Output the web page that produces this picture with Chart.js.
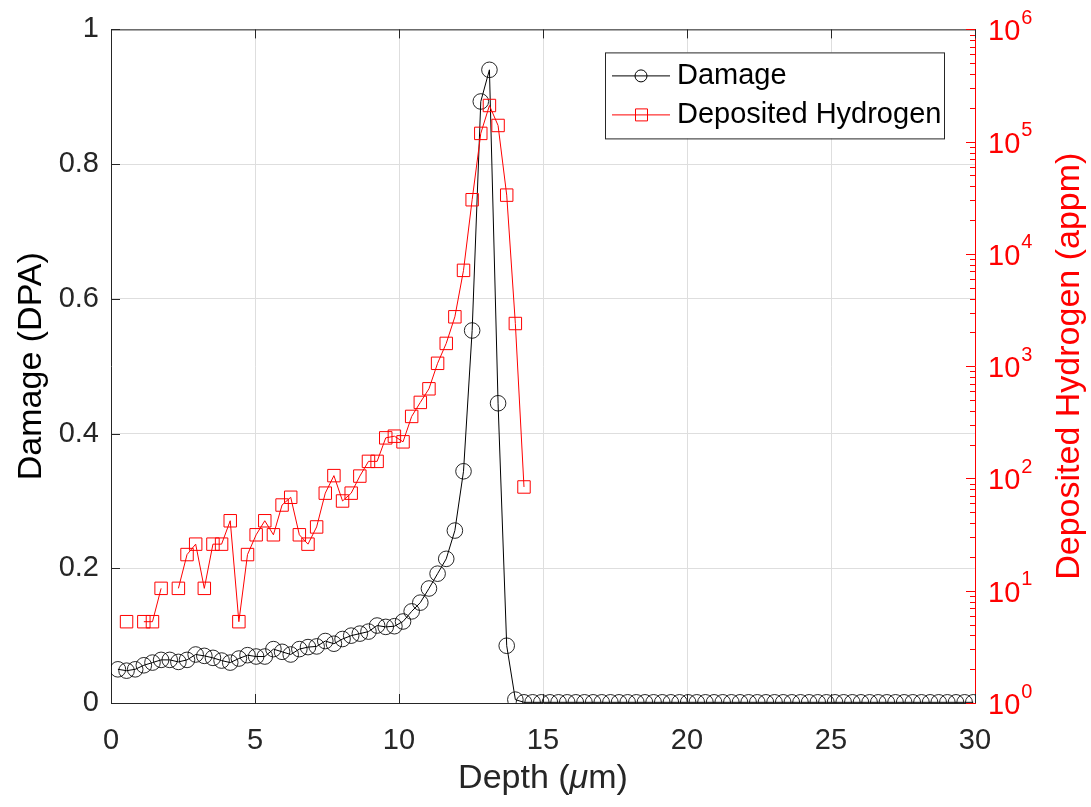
<!DOCTYPE html>
<html>
<head>
<meta charset="utf-8">
<title>Damage and deposited hydrogen vs depth</title>
<script src="https://cdn.jsdelivr.net/npm/chart.js@4.4.1/dist/chart.umd.min.js"></script>
<style>
  html, body { margin: 0; padding: 0; background: #ffffff; }
  #wrap { width: 1091px; height: 807px; }
</style>
</head>
<body>
<div id="wrap"><canvas id="c" width="1091" height="807"></canvas></div>
<script>
// Depth bins (um)
const depth = [
  0.24, 0.54, 0.84, 1.14, 1.44, 1.74, 2.04, 2.34, 2.64, 2.94,
  3.24, 3.54, 3.84, 4.14, 4.44, 4.74, 5.04, 5.34, 5.64, 5.94,
  6.24, 6.54, 6.84, 7.14, 7.44, 7.74, 8.04, 8.34, 8.64, 8.94,
  9.24, 9.54, 9.84, 10.14, 10.44, 10.74, 11.04, 11.34, 11.64, 11.94,
  12.24, 12.54, 12.84, 13.14, 13.44, 13.74, 14.04, 14.34, 14.64, 14.94,
  15.24, 15.54, 15.84, 16.14, 16.44, 16.74, 17.04, 17.34, 17.64, 17.94,
  18.24, 18.54, 18.84, 19.14, 19.44, 19.74, 20.04, 20.34, 20.64, 20.94,
  21.24, 21.54, 21.84, 22.14, 22.44, 22.74, 23.04, 23.34, 23.64, 23.94,
  24.24, 24.54, 24.84, 25.14, 25.44, 25.74, 26.04, 26.34, 26.64, 26.94,
  27.24, 27.54, 27.84, 28.14, 28.44, 28.74, 29.04, 29.34, 29.64, 29.94
];

// Displacement damage (DPA), one value per depth bin
const damage = [
  0.050, 0.048, 0.050, 0.056, 0.060, 0.064, 0.064, 0.061, 0.064, 0.072,
  0.070, 0.067, 0.063, 0.060, 0.066, 0.071, 0.069, 0.069, 0.080, 0.076,
  0.072, 0.080, 0.083, 0.084, 0.092, 0.088, 0.095, 0.100, 0.103, 0.106,
  0.115, 0.113, 0.114, 0.121, 0.136, 0.149, 0.170, 0.192, 0.214, 0.256,
  0.344, 0.553, 0.893, 0.940, 0.445, 0.085, 0.005, 0.001, 0.001, 0.001,
  0.001, 0.001, 0.001, 0.001, 0.001, 0.001, 0.001, 0.001, 0.001, 0.001,
  0.001, 0.001, 0.001, 0.001, 0.001, 0.001, 0.001, 0.001, 0.001, 0.001,
  0.001, 0.001, 0.001, 0.001, 0.001, 0.001, 0.001, 0.001, 0.001, 0.001,
  0.001, 0.001, 0.001, 0.001, 0.001, 0.001, 0.001, 0.001, 0.001, 0.001,
  0.001, 0.001, 0.001, 0.001, 0.001, 0.001, 0.001, 0.001, 0.001, 0.001
];

// Deposited hydrogen (appm) for the first bins; null = no hydrogen in that bin
const hydrogen = [
  null, 5.3, null, 5.3, 5.3, 10.5, null, 10.5, 21, 26,
  10.5, 26, 26, 42, 5.3, 21, 31.5, 42, 31.5, 58,
  68, 31.5, 26, 37, 74, 106, 63, 74, 105, 142,
  142, 230, 238, 212, 357, 476, 629, 1061, 1596, 2754,
  7140, 30400, 118500, 210000, 139400, 33400, 2400, 84
];

const xTicks = [0, 5, 10, 15, 20, 25, 30];
const damageTicks = [0, 0.2, 0.4, 0.6, 0.8, 1];
const hydrogenDecades = [0, 1, 2, 3, 4, 5, 6];

const FONT = "'Liberation Sans', Arial, Helvetica, sans-serif";
const AXIS_GREY = '#262626';
const RED = '#ff0000';
const TICK_SIZE = 29;
const TITLE_SIZE = 34;
const LEGEND_SIZE = 29;

const damagePoints = depth.map((d, i) => ({ x: d, y: damage[i] }));
const hydrogenPoints = hydrogen.map((h, i) => ({ x: depth[i], y: h }));

// Frame, inward tick marks, superscript log labels, rotated titles and legend
const decorations = {
  id: 'decorations',
  afterDraw(chart) {
    const { ctx, chartArea: a, scales } = chart;
    const xs = scales.x, ys = scales.y, hs = scales.y2;
    ctx.save();

    // top edge of the box
    ctx.strokeStyle = AXIS_GREY;
    ctx.lineWidth = 1;
    ctx.beginPath();
    ctx.moveTo(a.left, a.top + 0.5);
    ctx.lineTo(a.right, a.top + 0.5);
    ctx.stroke();

    // x ticks, bottom and top
    ctx.beginPath();
    xTicks.forEach(v => {
      const px = Math.round(xs.getPixelForValue(v)) + 0.5;
      ctx.moveTo(px, a.bottom); ctx.lineTo(px, a.bottom - 9);
      ctx.moveTo(px, a.top); ctx.lineTo(px, a.top + 9);
    });
    // left y ticks
    damageTicks.forEach(v => {
      const py = Math.round(ys.getPixelForValue(v)) + 0.5;
      ctx.moveTo(a.left, py); ctx.lineTo(a.left + 9, py);
    });
    ctx.stroke();

    // right log axis ticks (major + minor)
    ctx.strokeStyle = RED;
    ctx.beginPath();
    hydrogenDecades.forEach(e => {
      const base = Math.pow(10, e);
      const py = Math.round(hs.getPixelForValue(base)) + 0.5;
      ctx.moveTo(a.right, py); ctx.lineTo(a.right - 9, py);
      if (e < 6) {
        for (let m = 2; m <= 9; m++) {
          const pm = Math.round(hs.getPixelForValue(base * m)) + 0.5;
          ctx.moveTo(a.right, pm); ctx.lineTo(a.right - 5, pm);
        }
      }
    });
    ctx.stroke();

    // right labels 10^n
    ctx.fillStyle = RED;
    ctx.textBaseline = 'middle';
    ctx.textAlign = 'left';
    hydrogenDecades.forEach(e => {
      const py = hs.getPixelForValue(Math.pow(10, e));
      ctx.font = `${TICK_SIZE}px ${FONT}`;
      ctx.fillText('10', a.right + 13, py + 3);
      const w = ctx.measureText('10').width;
      ctx.font = `${Math.round(TICK_SIZE * 0.7)}px ${FONT}`;
      ctx.fillText(String(e), a.right + 13 + w + 1, py - 11);
    });

    // axis titles
    ctx.font = `${TITLE_SIZE}px ${FONT}`;
    ctx.textAlign = 'center';
    ctx.textBaseline = 'middle';
    const midY = (a.top + a.bottom) / 2;

    ctx.fillStyle = '#000000';
    ctx.save();
    ctx.translate(32, midY);
    ctx.rotate(-Math.PI / 2);
    ctx.fillText('Damage (DPA)', 0, 0);
    ctx.restore();

    ctx.fillStyle = RED;
    ctx.save();
    ctx.translate(1070, midY);
    ctx.rotate(-Math.PI / 2);
    ctx.fillText('Deposited Hydrogen (appm)', 0, 0);
    ctx.restore();

    // x title with italic mu
    ctx.fillStyle = AXIS_GREY;
    const parts = [
      { t: 'Depth (', f: `${TITLE_SIZE}px ${FONT}` },
      { t: '\u03bc', f: `italic ${TITLE_SIZE}px ${FONT}` },
      { t: 'm)', f: `${TITLE_SIZE}px ${FONT}` }
    ];
    let total = 0;
    parts.forEach(p => { ctx.font = p.f; p.w = ctx.measureText(p.t).width; total += p.w; });
    let tx = (a.left + a.right) / 2 - total / 2;
    ctx.textAlign = 'left';
    parts.forEach(p => { ctx.font = p.f; ctx.fillText(p.t, tx, 779); tx += p.w; });

    // legend
    const lx = a.right - 370, ly = a.top + 23, lw = 339, lh = 86;
    ctx.fillStyle = '#ffffff';
    ctx.fillRect(lx, ly, lw, lh);
    ctx.strokeStyle = AXIS_GREY;
    ctx.lineWidth = 1;
    ctx.strokeRect(lx + 0.5, ly + 0.5, lw, lh);

    const rows = [
      { label: 'Damage', color: '#000000', style: 'circle', y: ly + 23 },
      { label: 'Deposited Hydrogen', color: RED, style: 'rect', y: ly + 62 }
    ];
    rows.forEach(r => {
      ctx.strokeStyle = r.color;
      ctx.lineWidth = 1;
      ctx.beginPath();
      ctx.moveTo(lx + 7, r.y + 0.5);
      ctx.lineTo(lx + 65, r.y + 0.5);
      ctx.stroke();
      ctx.beginPath();
      if (r.style === 'circle') {
        ctx.arc(lx + 36, r.y + 0.5, 6, 0, Math.PI * 2);
      } else {
        ctx.rect(lx + 30.5, r.y - 5.5, 12, 12);
      }
      ctx.stroke();
      ctx.fillStyle = '#000000';
      ctx.font = `${LEGEND_SIZE}px ${FONT}`;
      ctx.textBaseline = 'middle';
      ctx.fillText(r.label, lx + 72, r.y + 1);
    });

    ctx.restore();
  }
};

new Chart(document.getElementById('c'), {
  type: 'line',
  data: {
    datasets: [
      {
        label: 'Damage',
        data: damagePoints,
        yAxisID: 'y',
        borderColor: '#000000',
        borderWidth: 1,
        pointStyle: 'circle',
        pointRadius: 7.8,
        pointBorderWidth: 1,
        pointBorderColor: 'rgba(0,0,0,0.85)',
        pointBackgroundColor: 'rgba(0,0,0,0)',
        tension: 0,
        order: 2
      },
      {
        label: 'Deposited Hydrogen',
        data: hydrogenPoints,
        yAxisID: 'y2',
        borderColor: RED,
        borderWidth: 1,
        pointStyle: 'rect',
        pointRadius: 8.8,
        pointBorderWidth: 1,
        pointBorderColor: RED,
        pointBackgroundColor: 'rgba(0,0,0,0)',
        spanGaps: false,
        tension: 0,
        order: 1
      }
    ]
  },
  options: {
    responsive: false,
    animation: false,
    devicePixelRatio: 1,
    layout: { padding: { top: 26, left: 0, right: 0, bottom: 0 } },
    plugins: { legend: { display: false }, tooltip: { enabled: false } },
    scales: {
      x: {
        type: 'linear',
        min: 0, max: 30,
        afterBuildTicks: s => { s.ticks = xTicks.map(v => ({ value: v })); },
        afterFit: s => { s.height = 104; },
        ticks: { color: AXIS_GREY, font: { family: FONT, size: TICK_SIZE }, padding: 21, maxRotation: 0 },
        grid: { color: '#dedede', drawTicks: false },
        border: { color: AXIS_GREY, width: 1 }
      },
      y: {
        position: 'left',
        min: 0, max: 1,
        afterBuildTicks: s => { s.ticks = damageTicks.map(v => ({ value: v })); },
        afterFit: s => { s.width = 111; },
        ticks: { color: AXIS_GREY, font: { family: FONT, size: TICK_SIZE }, padding: 12, callback: v => String(v) },
        grid: { color: '#dedede', drawTicks: false },
        border: { color: AXIS_GREY, width: 1 }
      },
      y2: {
        type: 'logarithmic',
        position: 'right',
        min: 1, max: 1e6,
        afterFit: s => { s.width = 116; },
        ticks: { display: false },
        grid: { display: false, drawTicks: false },
        border: { color: RED, width: 1 }
      }
    }
  },
  plugins: [decorations]
});
</script>
</body>
</html>
